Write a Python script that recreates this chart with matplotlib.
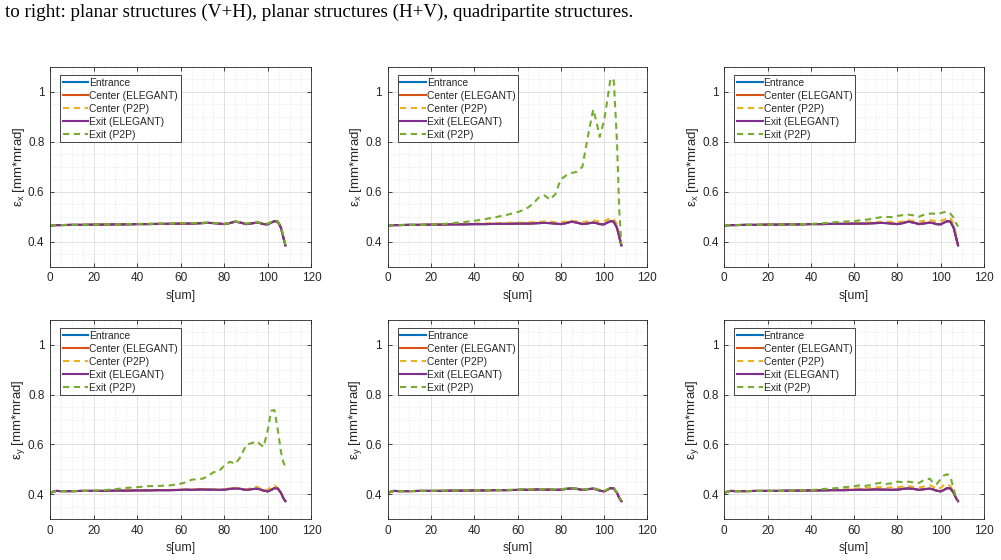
import matplotlib
matplotlib.use("Agg")
import matplotlib.pyplot as plt
from matplotlib.ticker import MultipleLocator, FixedLocator, FixedFormatter

# ---------------- data ----------------
caption = "to right: planar structures (V+H), planar structures (H+V), quadripartite structures."

s = [0, 1.5, 3, 5, 10, 15, 20, 25, 30, 35, 40, 45, 50, 55, 60, 62.5, 65, 67.5, 70, 72.5,
     75, 77.5, 80, 82.5, 85, 87.5, 90, 92.5, 95, 96.5, 98, 100, 101.5, 103, 104.5, 106, 107, 108]

series_labels = ["Entrance", "Center (ELEGANT)", "Center (P2P)", "Exit (ELEGANT)", "Exit (P2P)"]

# horizontal emittance, ELEGANT (same for all three structures)
ex_elegant = [0.462, 0.465, 0.466, 0.466, 0.467, 0.467, 0.468, 0.468, 0.469, 0.469, 0.470, 0.470,
              0.471, 0.471, 0.472, 0.472, 0.472, 0.473, 0.474, 0.475, 0.474, 0.472, 0.470, 0.474,
              0.480, 0.476, 0.470, 0.473, 0.476, 0.474, 0.470, 0.469, 0.476, 0.482, 0.480, 0.455,
              0.420, 0.385]
# vertical emittance, ELEGANT
ey_elegant = [0.405, 0.410, 0.413, 0.412, 0.412, 0.413, 0.413, 0.413, 0.414, 0.414, 0.415, 0.415,
              0.416, 0.416, 0.417, 0.418, 0.417, 0.418, 0.419, 0.418, 0.418, 0.417, 0.418, 0.421,
              0.423, 0.421, 0.417, 0.420, 0.422, 0.419, 0.414, 0.411, 0.417, 0.424, 0.423, 0.405,
              0.385, 0.372]

# panel 1: planar (V+H), eps_x
p1_center_p2p = [0.462, 0.465, 0.466, 0.466, 0.467, 0.467, 0.468, 0.468, 0.469, 0.470, 0.470, 0.471,
                 0.471, 0.472, 0.473, 0.473, 0.473, 0.474, 0.475, 0.476, 0.475, 0.473, 0.471, 0.475,
                 0.481, 0.477, 0.471, 0.474, 0.477, 0.475, 0.472, 0.471, 0.478, 0.484, 0.481, 0.458,
                 0.422, 0.386]
p1_exit_p2p = [0.462, 0.465, 0.466, 0.466, 0.467, 0.467, 0.468, 0.469, 0.469, 0.470, 0.471, 0.471,
               0.472, 0.472, 0.473, 0.473, 0.474, 0.474, 0.475, 0.476, 0.475, 0.473, 0.471, 0.475,
               0.481, 0.477, 0.472, 0.475, 0.477, 0.476, 0.473, 0.472, 0.478, 0.484, 0.482, 0.460,
               0.425, 0.388]

# panel 2: planar (H+V), eps_x
p2_center_p2p = [0.462, 0.465, 0.466, 0.466, 0.467, 0.467, 0.468, 0.469, 0.470, 0.471, 0.472, 0.473,
                 0.474, 0.475, 0.476, 0.476, 0.477, 0.478, 0.479, 0.481, 0.480, 0.478, 0.477, 0.480,
                 0.483, 0.481, 0.478, 0.481, 0.484, 0.483, 0.480, 0.482, 0.488, 0.494, 0.490, 0.470,
                 0.430, 0.390]
p2_exit_p2p = [0.462, 0.465, 0.466, 0.466, 0.467, 0.467, 0.468, 0.470, 0.474, 0.478, 0.483, 0.490,
               0.498, 0.507, 0.518, 0.526, 0.537, 0.555, 0.578, 0.585, 0.568, 0.590, 0.650, 0.665,
               0.675, 0.680, 0.700, 0.820, 0.930, 0.880, 0.820, 0.885, 0.965, 1.055, 1.045, 0.800,
               0.530, 0.390]

# panel 3: quadripartite, eps_x
p3_center_p2p = [0.462, 0.465, 0.466, 0.466, 0.467, 0.467, 0.468, 0.468, 0.469, 0.469, 0.470, 0.471,
                 0.472, 0.473, 0.475, 0.475, 0.476, 0.477, 0.478, 0.479, 0.480, 0.478, 0.477, 0.481,
                 0.485, 0.483, 0.480, 0.483, 0.486, 0.484, 0.480, 0.483, 0.488, 0.492, 0.495, 0.470,
                 0.430, 0.412]
p3_exit_p2p = [0.462, 0.465, 0.466, 0.466, 0.467, 0.467, 0.468, 0.468, 0.469, 0.470, 0.471, 0.473,
               0.477, 0.480, 0.482, 0.485, 0.487, 0.490, 0.494, 0.498, 0.499, 0.498, 0.503, 0.506,
               0.508, 0.505, 0.500, 0.508, 0.512, 0.512, 0.511, 0.514, 0.518, 0.520, 0.512, 0.495,
               0.475, 0.460]

# panel 4: planar (V+H), eps_y
p4_center_p2p = [0.405, 0.410, 0.413, 0.412, 0.412, 0.413, 0.413, 0.414, 0.414, 0.415, 0.415, 0.416,
                 0.416, 0.417, 0.418, 0.419, 0.418, 0.419, 0.420, 0.419, 0.419, 0.418, 0.420, 0.423,
                 0.425, 0.422, 0.419, 0.425, 0.430, 0.422, 0.416, 0.418, 0.430, 0.435, 0.425, 0.405,
                 0.385, 0.375]
p4_exit_p2p = [0.405, 0.410, 0.413, 0.412, 0.412, 0.413, 0.414, 0.416, 0.420, 0.425, 0.428, 0.432,
               0.433, 0.435, 0.442, 0.448, 0.458, 0.460, 0.462, 0.472, 0.488, 0.492, 0.515, 0.530,
               0.522, 0.550, 0.598, 0.605, 0.612, 0.600, 0.590, 0.660, 0.735, 0.738, 0.660, 0.570,
               0.530, 0.510]

# panel 5: planar (H+V), eps_y
p5_center_p2p = [0.405, 0.410, 0.413, 0.412, 0.412, 0.413, 0.413, 0.413, 0.414, 0.414, 0.415, 0.415,
                 0.416, 0.416, 0.417, 0.418, 0.418, 0.418, 0.419, 0.419, 0.418, 0.418, 0.419, 0.421,
                 0.423, 0.421, 0.418, 0.420, 0.422, 0.420, 0.415, 0.412, 0.418, 0.424, 0.423, 0.405,
                 0.385, 0.372]
p5_exit_p2p = [0.405, 0.410, 0.413, 0.412, 0.412, 0.413, 0.413, 0.414, 0.414, 0.415, 0.415, 0.416,
               0.416, 0.417, 0.418, 0.419, 0.419, 0.419, 0.420, 0.420, 0.419, 0.419, 0.420, 0.422,
               0.424, 0.422, 0.419, 0.421, 0.423, 0.421, 0.416, 0.413, 0.419, 0.425, 0.424, 0.407,
               0.388, 0.375]

# panel 6: quadripartite, eps_y
p6_center_p2p = [0.405, 0.410, 0.413, 0.412, 0.412, 0.413, 0.413, 0.413, 0.414, 0.414, 0.415, 0.416,
                 0.417, 0.419, 0.422, 0.423, 0.424, 0.426, 0.428, 0.428, 0.426, 0.427, 0.428, 0.430,
                 0.432, 0.429, 0.426, 0.431, 0.435, 0.430, 0.420, 0.425, 0.437, 0.440, 0.432, 0.405,
                 0.385, 0.375]
p6_exit_p2p = [0.405, 0.410, 0.413, 0.412, 0.412, 0.413, 0.413, 0.413, 0.414, 0.415, 0.416, 0.420,
               0.423, 0.427, 0.432, 0.435, 0.433, 0.436, 0.442, 0.446, 0.441, 0.443, 0.450, 0.448,
               0.450, 0.447, 0.445, 0.458, 0.462, 0.445, 0.440, 0.460, 0.475, 0.480, 0.470, 0.420,
               0.390, 0.375]

panels = [
    ("x", ex_elegant, p1_center_p2p, p1_exit_p2p),
    ("x", ex_elegant, p2_center_p2p, p2_exit_p2p),
    ("x", ex_elegant, p3_center_p2p, p3_exit_p2p),
    ("y", ey_elegant, p4_center_p2p, p4_exit_p2p),
    ("y", ey_elegant, p5_center_p2p, p5_exit_p2p),
    ("y", ey_elegant, p6_center_p2p, p6_exit_p2p),
]

x_ticks = [0, 20, 40, 60, 80, 100, 120]
y_ticks = [0.4, 0.6, 0.8, 1.0]
y_tick_labels = ["0.4", "0.6", "0.8", "1"]

# ---------------- style ----------------
colors = ["#0072BD", "#D95319", "#EDB120", "#7E2F8E", "#77AC30"]
styles = ["-", "-", "--", "-", "--"]
dark = "#262626"

plt.rcParams["font.family"] = ["Liberation Sans", "DejaVu Sans"]
plt.rcParams["mathtext.fontset"] = "custom"
plt.rcParams["mathtext.rm"] = "Liberation Sans"
plt.rcParams["mathtext.it"] = "Liberation Sans"

W, H = 1001, 560
fig = plt.figure(figsize=(W / 100, H / 100), dpi=100)

fig.text(5 / W, 1 - 17 / H, caption, family=["Liberation Serif"], fontsize=13.7,
         va="baseline", ha="left", color="black")

cols = [(50, 311.5), (387.7, 647.3), (724.3, 984)]
rows = [(67, 266.5), (320, 519)]

for i, (comp, elegant, center_p2p, exit_p2p) in enumerate(panels):
    r, c = divmod(i, 3)
    x0, x1 = cols[c]
    t, b = rows[r]
    ax = fig.add_axes([x0 / W, 1 - b / H, (x1 - x0) / W, (b - t) / H])
    data = [elegant, elegant, center_p2p, elegant, exit_p2p]
    for lab, y, col, ls in zip(series_labels, data, colors, styles):
        ax.plot(s, y, color=col, ls=ls, lw=1.5, label=lab,
                dashes=(3, 2.2) if ls == "--" else (None, None))
    ax.set_xlim(0, 120)
    ax.set_ylim(0.3, 1.1)
    ax.xaxis.set_major_locator(FixedLocator(x_ticks))
    ax.yaxis.set_major_locator(FixedLocator(y_ticks))
    ax.yaxis.set_major_formatter(FixedFormatter(y_tick_labels))
    ax.xaxis.set_minor_locator(MultipleLocator(5))
    ax.yaxis.set_minor_locator(MultipleLocator(0.05))
    ax.grid(True, which="major", color="#dcdcdc", lw=0.6, ls="-")
    ax.grid(True, which="minor", color="#e3e3e3", lw=0.6, ls=":")
    ax.set_axisbelow(True)
    ax.tick_params(which="major", direction="in", length=3, width=0.6, colors=dark,
                   labelsize=8.5, top=True, right=True, pad=4)
    ax.tick_params(which="minor", length=0, top=True, right=True)
    for sp in ax.spines.values():
        sp.set_color(dark)
        sp.set_linewidth(0.6)
    ax.set_xlabel("s[um]", fontsize=8.8, color=dark, labelpad=4)
    ax.set_ylabel(r"$\mathregular{\varepsilon_%s}$ [mm*mrad]" % comp, fontsize=9.5, color=dark,
                  labelpad=1)
    leg = ax.legend(loc="upper left", bbox_to_anchor=(10 / (x1 - x0), 1 - 8 / (b - t)),
                    fontsize=7.4, frameon=True, fancybox=False, framealpha=1,
                    edgecolor=dark, handlelength=2.5, handletextpad=0.1,
                    borderpad=0.25, labelspacing=0.3, borderaxespad=0)
    leg.get_frame().set_linewidth(0.6)
    for txt in leg.get_texts():
        txt.set_color(dark)

fig.savefig("out.png", dpi=100, facecolor="white")
